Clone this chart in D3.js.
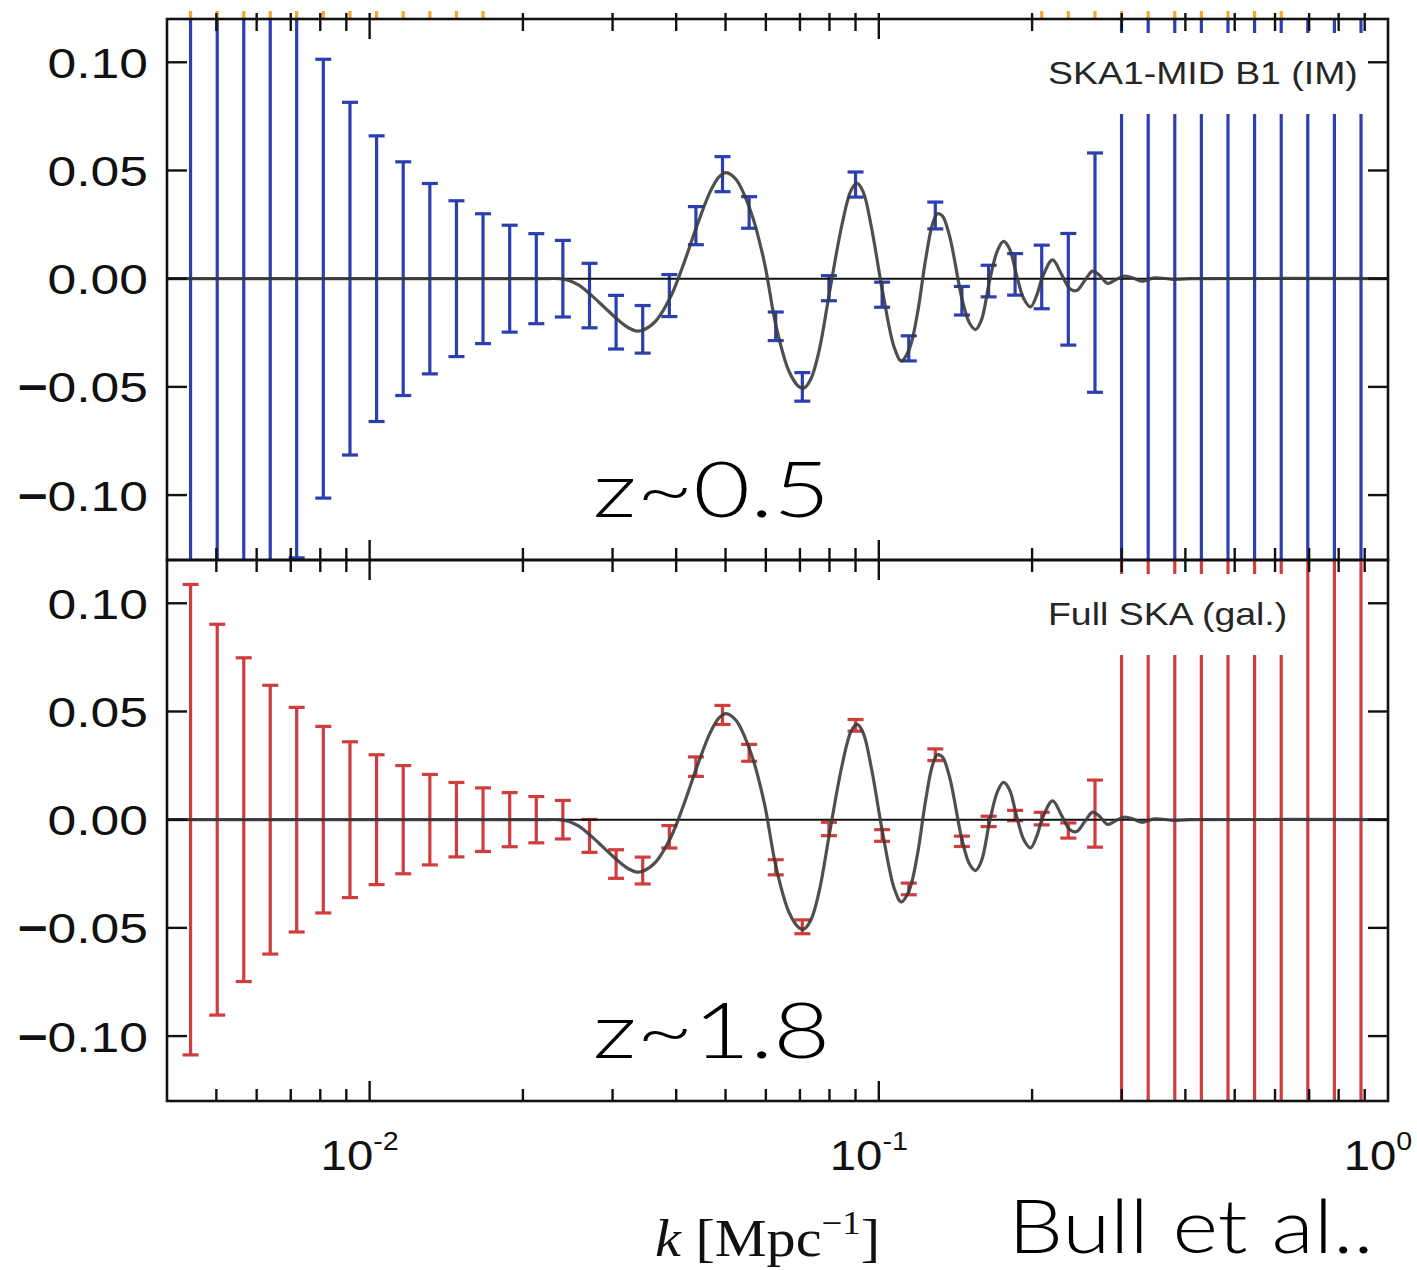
<!DOCTYPE html>
<html>
<head>
<meta charset="utf-8">
<script src="https://cdn.jsdelivr.net/npm/d3@7"></script>
<style>
  html, body { margin: 0; padding: 0; background: #fff; }
  svg { display: block; }
</style>
</head>
<body>
<script>
// k bins [Mpc^-1]
const kBins = [0.00445, 0.00502, 0.00566, 0.00638, 0.00719, 0.00811, 0.00915, 0.01032, 0.01164,
  0.01313, 0.01481, 0.01670, 0.01884, 0.02125, 0.02396, 0.02703, 0.03048, 0.03438, 0.03878,
  0.04373, 0.04932, 0.05563, 0.06274, 0.07076, 0.07980, 0.09001, 0.1015, 0.1145, 0.1291,
  0.1456, 0.1643, 0.1852, 0.2089, 0.2356, 0.2658, 0.2997, 0.3381, 0.3813, 0.4300, 0.4850,
  0.5470, 0.6170, 0.6958, 0.7848, 0.8851];

// SKA1-MID B1 intensity mapping, z~0.5
const imCenter = [0, 0, 0, 0, 0, 0, 0, 0, 0, 0, 0, 0, 0, 0, 0,
  -0.0078, -0.0201, -0.0234, -0.0078, 0.0245, 0.0483, 0.0306, -0.0220, -0.0500, -0.0044,
  0.0435, -0.0074, -0.0322, 0.0292, -0.0102, -0.0011, 0.0020, 0.0008, -0.0049, 0.0028,
  0, 0, 0, 0, 0, 0, 0, 0, 0, 0];
const imError = [0.31, 0.25, 0.20, 0.16, 0.129, 0.1014, 0.0815, 0.066, 0.054, 0.044, 0.036,
  0.030, 0.0247, 0.0208, 0.0177, 0.0149, 0.0124, 0.0110, 0.0097, 0.0088, 0.0081, 0.0073,
  0.0066, 0.0066, 0.0058, 0.0058, 0.0058, 0.0058, 0.0062, 0.0066, 0.0073, 0.0096, 0.0147,
  0.0258, 0.0553, 0.18, 0.23, 0.30, 0.38, 0.50, 0.65, 0.85, 1.1, 1.4, 1.8];

// Full SKA galaxy survey, z~1.8
const galCenter = [0, 0, 0, 0, 0, 0, 0, 0, 0, 0, 0, 0, 0, 0, 0,
  -0.0075, -0.0205, -0.0235, -0.0079, 0.0245, 0.0484, 0.0309, -0.0220, -0.0495, -0.0043,
  0.0436, -0.0073, -0.0320, 0.0300, -0.0100, -0.0008, 0.0019, 0.0005, -0.0050, 0.0028,
  0, 0, 0, 0, 0, 0, 0, 0, 0, 0];
const galError = [0.1087, 0.0903, 0.0748, 0.0621, 0.0519, 0.0431, 0.0360, 0.0300, 0.0250,
  0.0209, 0.0172, 0.0147, 0.0125, 0.0107, 0.0089, 0.0076, 0.0066, 0.0062, 0.0052, 0.0045,
  0.0044, 0.0039, 0.0035, 0.0032, 0.0031, 0.0027, 0.0027, 0.0027, 0.0027, 0.0024, 0.0024,
  0.0024, 0.0029, 0.0035, 0.0155, 0.16, 0.20, 0.26, 0.33, 0.42, 0.54, 0.70, 0.90, 1.15, 1.5];

// fiducial BAO wiggles
const curveK = [0.004, 0.0215, 0.02353, 0.02462, 0.02576, 0.02720, 0.02885, 0.03074, 0.03229,
  0.03349, 0.03456, 0.03649, 0.03907, 0.04125, 0.04395, 0.04661, 0.04855, 0.05012, 0.05245,
  0.05615, 0.05954, 0.06285, 0.06668, 0.06977, 0.07136, 0.07366, 0.07638, 0.08026, 0.08475,
  0.08827, 0.09070, 0.09322, 0.09667, 0.1020, 0.1073, 0.1107, 0.1148, 0.1191, 0.1234, 0.1274,
  0.1303, 0.1333, 0.1376, 0.1459, 0.1507, 0.1548, 0.1591, 0.1650, 0.1710, 0.1757, 0.1805,
  0.1863, 0.1924, 0.1986, 0.2040, 0.2097, 0.2194, 0.2285, 0.2369, 0.2446, 0.2536, 0.2630,
  0.2715, 0.2815, 0.2919, 0.3040, 0.3166, 0.3282, 0.3481, 0.3777, 0.4079, 1.0];
const curveVal = [0, 0, 0, -0.0008, -0.0030, -0.0075, -0.0130, -0.0190, -0.0228, -0.0242,
  -0.0236, -0.0195, -0.0080, 0.0060, 0.0245, 0.0400, 0.0470, 0.0490, 0.0458, 0.0305, 0.0080,
  -0.0220, -0.0430, -0.0500, -0.0505, -0.0460, -0.0330, -0.0045, 0.0255, 0.0410, 0.0440,
  0.0400, 0.0240, -0.0075, -0.0320, -0.0380, -0.0325, -0.0160, 0.0080, 0.0250, 0.0300,
  0.0290, 0.0200, -0.0100, -0.0205, -0.0235, -0.0190, -0.0010, 0.0130, 0.0172, 0.0140,
  0.0020, -0.0090, -0.0130, -0.0080, 0.0008, 0.0087, 0.0020, -0.0045, -0.0055, -0.0010,
  0.0035, 0.0015, -0.0022, -0.0005, 0.0012, 0.0002, -0.0012, 0.0004, -0.0003, 0, 0];

// bins of the panel above whose error bars reach into view
const upperK = [0.00445, 0.00502, 0.00566, 0.00638, 0.00719, 0.00811, 0.00915, 0.01032,
  0.01164, 0.01313, 0.01481, 0.01670, 0.2089, 0.2356, 0.2658, 0.2997, 0.3381, 0.3813,
  0.4300, 0.4850, 0.5470, 0.6170];

const yTicks = [-0.10, -0.05, 0.00, 0.05, 0.10];
const xMajor = [0.01, 0.1, 1];
const xMajorExp = ["-2", "-1", "0"];
const xMinor = [0.005, 0.006, 0.007, 0.008, 0.009, 0.02, 0.03, 0.04, 0.05, 0.06, 0.07,
  0.08, 0.09, 0.2, 0.3, 0.4, 0.5, 0.6, 0.7, 0.8, 0.9];

const W = 1417, H = 1270;
const L = 167, R = 1388, PH = 541;
const sx = 1.2; // horizontal text stretch

const svg = d3.select("body").append("svg").attr("width", W).attr("height", H);

const x = d3.scaleLog().domain([0.004, 1]).range([L, R]);
const y = d3.scaleLinear().domain([-0.13, 0.12]).range([PH, 0]);

const panels = [
  { top: 19, center: imCenter, err: imError, color: "#2c3fae", label: "SKA1-MID B1 (IM)",
    z: "z~0.5", boxRight: 1374 },
  { top: 560, center: galCenter, err: galError, color: "#cf3d3d", label: "Full SKA (gal.)",
    z: "z~1.8", boxRight: 1297 }
];

const defs = svg.append("defs");
defs.append("clipPath").attr("id", "plotclip")
  .append("rect").attr("x", L).attr("y", 0).attr("width", R - L).attr("height", PH);

// ticks and orange bar ends of the panel above, just visible at the top
const above = svg.append("g");
above.selectAll("line.ot").data(upperK).join("line")
  .attr("x1", d => x(d)).attr("x2", d => x(d))
  .attr("y1", 11).attr("y2", 18.5)
  .attr("stroke", "#f3a72c").attr("stroke-width", 3.2);
above.selectAll("line.tk").data(xMajor.concat(xMinor).filter(d => d < 1)).join("line")
  .attr("x1", d => x(d)).attr("x2", d => x(d))
  .attr("y1", 13).attr("y2", 19)
  .attr("stroke", "#111").attr("stroke-width", 2.4);

panels.forEach(p => {
  const g = svg.append("g").attr("transform", `translate(0,${p.top})`);
  const plot = g.append("g").attr("clip-path", "url(#plotclip)");

  const bars = kBins.map((k, i) => ({ k, c: p.center[i], e: p.err[i] }));

  // error bars
  plot.selectAll("line.bar").data(bars).join("line")
    .attr("x1", d => x(d.k)).attr("x2", d => x(d.k))
    .attr("y1", d => y(d.c - d.e)).attr("y2", d => y(d.c + d.e))
    .attr("stroke", p.color).attr("stroke-width", 3.2);
  const caps = [];
  bars.forEach(d => { caps.push({ k: d.k, v: d.c - d.e }); caps.push({ k: d.k, v: d.c + d.e }); });
  plot.selectAll("line.cap").data(caps).join("line")
    .attr("x1", d => x(d.k) - 8).attr("x2", d => x(d.k) + 8)
    .attr("y1", d => y(d.v)).attr("y2", d => y(d.v))
    .attr("stroke", p.color).attr("stroke-width", 3.2);

  // zero line
  plot.append("line").attr("x1", L).attr("x2", R)
    .attr("y1", y(0)).attr("y2", y(0))
    .attr("stroke", "#111").attr("stroke-width", 2);

  // wiggle curve
  const line = d3.line()
    .x((d, i) => x(curveK[i])).y(d => y(d))
    .curve(d3.curveCatmullRom.alpha(0.5));
  plot.append("path").datum(curveVal)
    .attr("d", line).attr("fill", "none")
    .attr("stroke", "#3c3c3c").attr("stroke-opacity", 0.9).attr("stroke-width", 3.2);

  // legend
  g.append("rect").attr("x", 1015).attr("y", 14).attr("width", p.boxRight - 1015).attr("height", 81)
    .attr("fill", "#fff");
  g.append("text")
    .attr("transform", `translate(1048,65) scale(1.17,1)`)
    .attr("font-family", "Liberation Sans, Arial, sans-serif")
    .attr("font-size", 32).attr("fill", "#262626")
    .text(p.label);

  // redshift label
  g.append("text")
    .attr("x", 593).attr("y", 498)
    .attr("textLength", 237).attr("lengthAdjust", "spacingAndGlyphs")
    .attr("font-family", "Lato, Roboto, sans-serif").attr("font-weight", 300)
    .attr("font-size", 77).attr("fill", "#000")
    .text(p.z);

  // inward ticks on all four sides
  const ticks = g.append("g").attr("stroke", "#111").attr("stroke-width", 2.4);
  const xt = xMajor.map(v => ({ v, len: 20 })).concat(xMinor.map(v => ({ v, len: 12 })))
    .filter(d => d.v < 1);
  ticks.selectAll("line.xt").data(xt).join("line")
    .attr("x1", d => x(d.v)).attr("x2", d => x(d.v)).attr("y1", 0).attr("y2", d => d.len);
  ticks.selectAll("line.xb").data(xt).join("line")
    .attr("x1", d => x(d.v)).attr("x2", d => x(d.v)).attr("y1", PH).attr("y2", d => PH - d.len);
  ticks.selectAll("line.yl").data(yTicks).join("line")
    .attr("x1", L).attr("x2", L + 20).attr("y1", d => y(d)).attr("y2", d => y(d));
  ticks.selectAll("line.yr").data(yTicks).join("line")
    .attr("x1", R).attr("x2", R - 20).attr("y1", d => y(d)).attr("y2", d => y(d));

  // frame
  g.append("rect").attr("x", L).attr("y", 0).attr("width", R - L).attr("height", PH)
    .attr("fill", "none").attr("stroke", "#111").attr("stroke-width", 2.6);

  // y tick labels
  const yl = g.selectAll("text.yl").data(yTicks).join("text")
    .attr("transform", d => `translate(148,${y(d)}) scale(${sx},1)`)
    .attr("dy", "0.36em").attr("text-anchor", "end")
    .attr("font-family", "Liberation Sans, Arial, sans-serif")
    .attr("font-size", 43).attr("fill", "#111");
  yl.each(function (d) {
    const t = d3.select(this);
    const s = d3.format(".2f")(Math.abs(d));
    if (d < 0) t.append("tspan").attr("font-weight", 700).text("\u2212");
    t.append("tspan").text(s);
  });
});

// x tick labels (bottom)
const xl = svg.selectAll("text.xl").data(xMajor).join("text")
  .attr("transform", d => `translate(${x(d) - 10},1170) scale(1.1,1)`)
  .attr("text-anchor", "middle")
  .attr("font-family", "Liberation Sans, Arial, sans-serif")
  .attr("font-size", 43).attr("fill", "#111");
xl.each(function (d, i) {
  const t = d3.select(this);
  t.append("tspan").text("10");
  t.append("tspan").attr("font-size", 26).attr("dy", -20).text(xMajorExp[i]);
});

// axis title
const xt = svg.append("text")
  .attr("transform", `translate(655,1256) scale(1.12,1)`)
  .attr("font-family", "Liberation Serif, DejaVu Serif, serif")
  .attr("font-size", 52).attr("fill", "#111");
xt.append("tspan").attr("font-style", "italic").text("k");
xt.append("tspan").text(" [Mpc");
xt.append("tspan").attr("font-size", 33).attr("dy", -22).text("\u22121");
xt.append("tspan").attr("dy", 22).text("]");

// citation
svg.append("text")
  .attr("transform", `translate(1008,1253) scale(1.18,1)`)
  .attr("font-family", "Lato, Roboto, sans-serif").attr("font-weight", 300)
  .attr("font-size", 74).attr("fill", "#000")
  .text("Bull et al..");
</script>
</body>
</html>
